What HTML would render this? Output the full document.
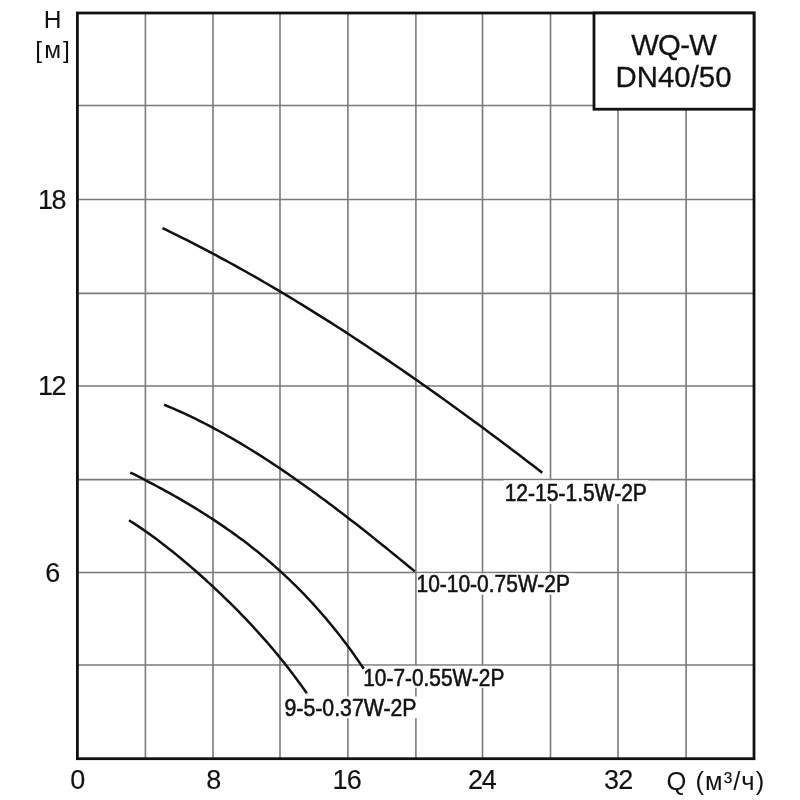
<!DOCTYPE html>
<html><head><meta charset="utf-8"><style>
html,body{margin:0;padding:0;background:#fff;}
body{width:800px;height:800px;overflow:hidden;}
svg{display:block;filter:grayscale(100%);}
text{font-family:"Liberation Sans",Arial,sans-serif;fill:#111;stroke:#111;stroke-width:0.55px;}
</style></head><body>
<svg width="800" height="800" viewBox="0 0 800 800">
<rect width="800" height="800" fill="#fff"/>
<g stroke="#7a7a7a" stroke-width="1.6">
<line x1="145.40" y1="13.00" x2="145.40" y2="758.70"/>
<line x1="213.00" y1="13.00" x2="213.00" y2="758.70"/>
<line x1="280.00" y1="13.00" x2="280.00" y2="758.70"/>
<line x1="347.90" y1="13.00" x2="347.90" y2="758.70"/>
<line x1="415.90" y1="13.00" x2="415.90" y2="758.70"/>
<line x1="482.50" y1="13.00" x2="482.50" y2="758.70"/>
<line x1="550.50" y1="13.00" x2="550.50" y2="758.70"/>
<line x1="618.00" y1="13.00" x2="618.00" y2="758.70"/>
<line x1="686.10" y1="13.00" x2="686.10" y2="758.70"/>
<line x1="77.40" y1="665.00" x2="754.00" y2="665.00"/>
<line x1="77.40" y1="572.50" x2="754.00" y2="572.50"/>
<line x1="77.40" y1="479.60" x2="754.00" y2="479.60"/>
<line x1="77.40" y1="386.00" x2="754.00" y2="386.00"/>
<line x1="77.40" y1="293.40" x2="754.00" y2="293.40"/>
<line x1="77.40" y1="199.50" x2="754.00" y2="199.50"/>
<line x1="77.40" y1="105.50" x2="754.00" y2="105.50"/>
</g>
<g fill="#fff">
<rect x="503.5" y="480.3" width="145.00" height="23.60"/>
<rect x="417.0" y="573.4" width="154.50" height="21.20"/>
<rect x="362.5" y="665.9" width="143.50" height="21.90"/>
<rect x="283.0" y="696.5" width="135.00" height="21.70"/>
</g>
<g fill="none" stroke="#111" stroke-width="2.5" stroke-linecap="butt" stroke-linejoin="round">
<path d="M162.50,228.14 L167.31,230.46 L172.12,232.81 L176.92,235.18 L181.73,237.57 L186.54,239.99 L191.35,242.43 L196.15,244.89 L200.96,247.38 L205.77,249.89 L210.58,252.42 L215.38,254.97 L220.19,257.55 L225.00,260.15 L229.81,262.77 L234.61,265.42 L239.42,268.08 L244.23,270.77 L249.04,273.48 L253.84,276.21 L258.65,278.96 L263.46,281.73 L268.27,284.53 L273.07,287.34 L277.88,290.18 L282.69,293.03 L287.50,295.91 L292.31,298.80 L297.11,301.72 L301.92,304.65 L306.73,307.61 L311.54,310.58 L316.34,313.57 L321.15,316.58 L325.96,319.62 L330.77,322.66 L335.57,325.73 L340.38,328.82 L345.19,331.92 L350.00,335.04 L354.80,338.18 L359.61,341.34 L364.42,344.52 L369.23,347.71 L374.03,350.92 L378.84,354.15 L383.65,357.39 L388.46,360.65 L393.26,363.93 L398.07,367.22 L402.88,370.53 L407.69,373.85 L412.49,377.19 L417.30,380.55 L422.11,383.92 L426.92,387.31 L431.73,390.71 L436.53,394.13 L441.34,397.56 L446.15,401.01 L450.96,404.47 L455.76,407.94 L460.57,411.43 L465.38,414.94 L470.19,418.45 L474.99,421.99 L479.80,425.53 L484.61,429.09 L489.42,432.66 L494.22,436.24 L499.03,439.84 L503.84,443.45 L508.65,447.07 L513.45,450.70 L518.26,454.35 L523.07,458.01 L527.88,461.68 L532.68,465.36 L537.49,469.05 L542.30,472.76"/>
<path d="M164.00,404.71 L167.17,406.02 L170.35,407.35 L173.52,408.70 L176.70,410.09 L179.87,411.50 L183.05,412.94 L186.22,414.41 L189.40,415.91 L192.57,417.43 L195.75,418.97 L198.92,420.54 L202.10,422.14 L205.27,423.76 L208.45,425.41 L211.62,427.08 L214.79,428.78 L217.97,430.50 L221.14,432.24 L224.32,434.01 L227.49,435.80 L230.67,437.62 L233.84,439.45 L237.02,441.31 L240.19,443.19 L243.37,445.09 L246.54,447.01 L249.72,448.95 L252.89,450.92 L256.07,452.90 L259.24,454.91 L262.42,456.93 L265.59,458.97 L268.76,461.04 L271.94,463.12 L275.11,465.22 L278.29,467.33 L281.46,469.47 L284.64,471.62 L287.81,473.80 L290.99,475.98 L294.16,478.19 L297.34,480.41 L300.51,482.65 L303.69,484.90 L306.86,487.17 L310.04,489.45 L313.21,491.75 L316.38,494.06 L319.56,496.39 L322.73,498.73 L325.91,501.09 L329.08,503.46 L332.26,505.84 L335.43,508.24 L338.61,510.64 L341.78,513.06 L344.96,515.50 L348.13,517.94 L351.31,520.39 L354.48,522.86 L357.66,525.34 L360.83,527.82 L364.01,530.32 L367.18,532.83 L370.35,535.34 L373.53,537.87 L376.70,540.40 L379.88,542.95 L383.05,545.50 L386.23,548.06 L389.40,550.63 L392.58,553.20 L395.75,555.78 L398.93,558.37 L402.10,560.97 L405.28,563.57 L408.45,566.18 L411.63,568.79 L414.80,571.41"/>
<path d="M130.30,472.51 L133.26,473.99 L136.21,475.47 L139.17,476.97 L142.12,478.48 L145.08,480.01 L148.03,481.55 L150.99,483.10 L153.95,484.66 L156.90,486.24 L159.86,487.83 L162.81,489.43 L165.77,491.06 L168.72,492.69 L171.68,494.35 L174.64,496.01 L177.59,497.70 L180.55,499.40 L183.50,501.12 L186.46,502.86 L189.41,504.62 L192.37,506.40 L195.33,508.19 L198.28,510.01 L201.24,511.85 L204.19,513.70 L207.15,515.58 L210.10,517.49 L213.06,519.41 L216.02,521.37 L218.97,523.34 L221.93,525.34 L224.88,527.37 L227.84,529.42 L230.79,531.50 L233.75,533.61 L236.71,535.75 L239.66,537.92 L242.62,540.12 L245.57,542.35 L248.53,544.61 L251.48,546.91 L254.44,549.24 L257.39,551.60 L260.35,554.00 L263.31,556.44 L266.26,558.91 L269.22,561.43 L272.17,563.98 L275.13,566.57 L278.08,569.21 L281.04,571.89 L284.00,574.61 L286.95,577.37 L289.91,580.19 L292.86,583.04 L295.82,585.95 L298.77,588.91 L301.73,591.91 L304.69,594.97 L307.64,598.08 L310.60,601.24 L313.55,604.46 L316.51,607.73 L319.46,611.07 L322.42,614.46 L325.38,617.91 L328.33,621.42 L331.29,624.99 L334.24,628.63 L337.20,632.33 L340.15,636.10 L343.11,639.93 L346.07,643.84 L349.02,647.82 L351.98,651.86 L354.93,655.98 L357.89,660.18 L360.84,664.45 L363.80,668.80"/>
<path d="M129.00,520.30 L131.25,521.71 L133.50,523.14 L135.75,524.60 L138.00,526.09 L140.25,527.59 L142.50,529.13 L144.75,530.68 L147.01,532.26 L149.26,533.86 L151.51,535.48 L153.76,537.13 L156.01,538.79 L158.26,540.47 L160.51,542.18 L162.76,543.90 L165.01,545.64 L167.26,547.40 L169.51,549.17 L171.76,550.97 L174.01,552.78 L176.26,554.60 L178.51,556.45 L180.76,558.31 L183.02,560.18 L185.27,562.08 L187.52,563.98 L189.77,565.91 L192.02,567.85 L194.27,569.80 L196.52,571.77 L198.77,573.75 L201.02,575.75 L203.27,577.77 L205.52,579.80 L207.77,581.85 L210.02,583.91 L212.27,585.99 L214.52,588.08 L216.77,590.19 L219.03,592.32 L221.28,594.46 L223.53,596.62 L225.78,598.80 L228.03,600.99 L230.28,603.20 L232.53,605.43 L234.78,607.68 L237.03,609.95 L239.28,612.24 L241.53,614.54 L243.78,616.87 L246.03,619.22 L248.28,621.59 L250.53,623.98 L252.78,626.40 L255.04,628.84 L257.29,631.30 L259.54,633.79 L261.79,636.30 L264.04,638.84 L266.29,641.41 L268.54,644.00 L270.79,646.62 L273.04,649.28 L275.29,651.96 L277.54,654.67 L279.79,657.42 L282.04,660.20 L284.29,663.02 L286.54,665.86 L288.79,668.75 L291.05,671.67 L293.30,674.64 L295.55,677.64 L297.80,680.68 L300.05,683.76 L302.30,686.89 L304.55,690.06 L306.80,693.28"/>
</g>
<text x="504.65" y="501" font-size="23.0" textLength="142.23" lengthAdjust="spacingAndGlyphs" style="stroke-width:0.55">12-15-1.5W-2P</text>
<text x="416.5" y="592" font-size="23.0" textLength="153.43" lengthAdjust="spacingAndGlyphs" style="stroke-width:0.55">10-10-0.75W-2P</text>
<text x="363.25" y="686" font-size="23.0" textLength="141.06" lengthAdjust="spacingAndGlyphs" style="stroke-width:0.55">10-7-0.55W-2P</text>
<text x="284.5" y="716" font-size="23.0" textLength="132.02" lengthAdjust="spacingAndGlyphs" style="stroke-width:0.55">9-5-0.37W-2P</text>
<rect x="77.4" y="13.0" width="676.60" height="745.70" fill="none" stroke="#111" stroke-width="2.8"/>
<rect x="594.0" y="13.0" width="160.00" height="96.20" fill="#fff" stroke="#111" stroke-width="2.8"/>
<text x="631.2" y="55.4" font-size="29.3" textLength="85.65" lengthAdjust="spacing" style="stroke-width:0.3">WQ-W</text>
<text x="615.55" y="87.4" font-size="29.3" textLength="115.88" lengthAdjust="spacing" style="stroke-width:0.3">DN40/50</text>
<text x="38.0" y="208.55" font-size="27.0" textLength="28.54" lengthAdjust="spacing" style="stroke-width:0.15">18</text>
<text x="38.0" y="395.4" font-size="27.0" textLength="28.49" lengthAdjust="spacing" style="stroke-width:0.15">12</text>
<text x="45.35" y="581.5" font-size="27.0" textLength="13.22" lengthAdjust="spacing" style="stroke-width:0.15">6</text>
<text x="70.25" y="788.75" font-size="27.0" textLength="14.02" lengthAdjust="spacing" style="stroke-width:0.15">0</text>
<text x="206.3" y="788.75" font-size="27.0" textLength="11.02" lengthAdjust="spacing" style="stroke-width:0.15">8</text>
<text x="332.6" y="788.6" font-size="27.0" textLength="29.14" lengthAdjust="spacing" style="stroke-width:0.15">16</text>
<text x="467.95" y="788.85" font-size="27.0" textLength="28.74" lengthAdjust="spacing" style="stroke-width:0.15">24</text>
<text x="604.0" y="788.85" font-size="27.0" textLength="29.34" lengthAdjust="spacing" style="stroke-width:0.15">32</text>
<text x="43.8" y="28.0" font-size="24.5" textLength="21.1" lengthAdjust="spacing" style="stroke-width:0">H</text>
<text x="35.25" y="58.2" font-size="24.5" textLength="34.61" lengthAdjust="spacing" style="stroke-width:0">[м]</text>
<text x="666.6" y="789.9" font-size="25.5" textLength="97.55" lengthAdjust="spacing" style="stroke-width:0">Q (м³/ч)</text>
</svg>
</body></html>
